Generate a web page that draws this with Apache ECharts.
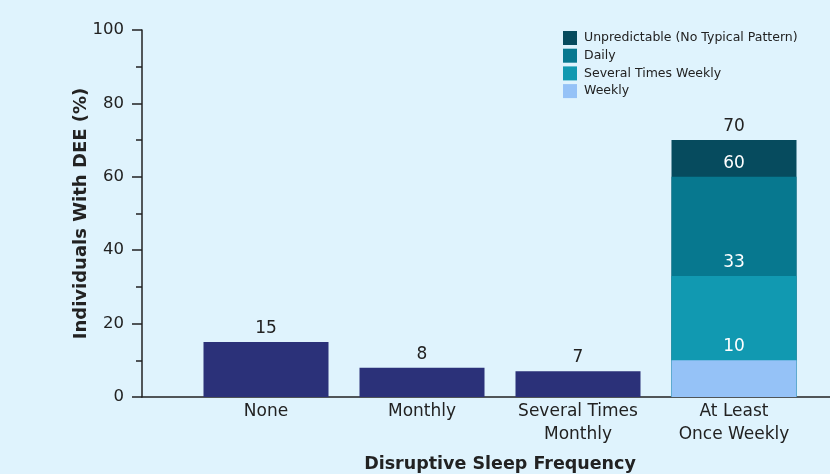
<!DOCTYPE html>
<html>
<head>
<meta charset="utf-8">
<script src="https://cdn.jsdelivr.net/npm/echarts@6/dist/echarts.min.js"></script>
<style>
  html, body { margin: 0; padding: 0; background: #dff3fd; }
  #chart { width: 830px; height: 474px; }
</style>
</head>
<body>
<div id="chart"></div>
<script>
// Sleep disruption frequency categories
const categories = ['None', 'Monthly', 'Several Times\nMonthly', 'At Least\nOnce Weekly'];

// Share of individuals with DEE (%) per frequency group
const overallPct = [15, 8, 7, '-'];

// Cumulative breakdown of the weekly-or-more group (top of each band, %)
const weeklyTop = ['-', '-', '-', 10];
const severalWeeklyTop = ['-', '-', '-', 33];
const dailyTop = ['-', '-', '-', 60];
const unpredictableTop = ['-', '-', '-', 70];

const yTicks = [0, 20, 40, 60, 80, 100];

const FONT = 'DejaVu Sans';
const INK = '#222222';

function band(name, data, color, labelColor) {
  return {
    name: name,
    type: 'bar',
    xAxisIndex: 1,
    yAxisIndex: 1,
    data: data,
    barWidth: 125,
    barGap: '-100%',
    itemStyle: { color: color },
    label: {
      show: true,
      position: 'top',
      distance: 5,
      color: labelColor,
      fontFamily: FONT,
      fontSize: 17
    },
    emphasis: { disabled: true },
    animation: false
  };
}

const chart = echarts.init(document.getElementById('chart'), null, { renderer: 'canvas' });
chart.setOption({
  backgroundColor: '#dff3fd',
  animation: false,
  textStyle: { fontFamily: FONT },
  legend: {
    orient: 'vertical',
    left: 563,
    top: 31,
    padding: 0,
    itemWidth: 14,
    itemHeight: 14,
    itemGap: 3.7,
    icon: 'rect',
    data: ['Unpredictable (No Typical Pattern)', 'Daily', 'Several Times Weekly', 'Weekly'],
    textStyle: { color: INK, fontFamily: FONT, fontSize: 12.5, padding: [0, 0, 0, 2] },
    selectedMode: false
  },
  grid: [
    { left: 142, right: 0, top: 30, bottom: 77, containLabel: false, outerBoundsMode: 'none' },
    { left: 188, right: 18, top: 30, bottom: 77, containLabel: false, outerBoundsMode: 'none' }
  ],
  xAxis: [
    {
      gridIndex: 0,
      type: 'value',
      min: 0,
      max: 1,
      axisLine: { show: true, lineStyle: { color: INK, width: 1.5 } },
      axisTick: { show: false },
      axisLabel: { show: false },
      splitLine: { show: false }
    },
    {
      gridIndex: 1,
      type: 'category',
      data: categories,
      axisLine: { show: false },
      axisTick: { show: false },
      axisLabel: {
        color: INK,
        fontFamily: FONT,
        fontSize: 17,
        lineHeight: 23,
        margin: 3,
        interval: 0
      },
      name: 'Disruptive Sleep Frequency',
      nameLocation: 'middle',
      nameGap: 58,
      nameMoveOverlap: false,
      nameTextStyle: { color: INK, fontFamily: FONT, fontSize: 17.5, fontWeight: 'bold' }
    }
  ],
  yAxis: [
    {
      gridIndex: 0,
      type: 'value',
      min: yTicks[0],
      max: yTicks[yTicks.length - 1],
      interval: 20,
      axisLine: { show: true, lineStyle: { color: INK, width: 1.5 } },
      axisTick: { show: true, length: 10, lineStyle: { color: INK, width: 1.5 } },
      minorTick: { show: true, splitNumber: 2, length: 6, lineStyle: { color: INK, width: 1.5 } },
      splitLine: { show: false },
      axisLabel: { color: INK, fontFamily: FONT, fontSize: 16.5, margin: 18 },
      name: 'Individuals With DEE (%)',
      nameLocation: 'middle',
      nameGap: 52,
      nameMoveOverlap: false,
      nameTextStyle: { color: INK, fontFamily: FONT, fontSize: 18, fontWeight: 'bold' }
    },
    {
      gridIndex: 1,
      type: 'value',
      min: 0,
      max: 100,
      show: false
    }
  ],
  series: [
    band('Overall', overallPct, '#2b3179', INK),
    band('Unpredictable (No Typical Pattern)', unpredictableTop, '#064b5e', INK),
    band('Daily', dailyTop, '#07788f', '#ffffff'),
    band('Several Times Weekly', severalWeeklyTop, '#1199b1', '#ffffff'),
    band('Weekly', weeklyTop, '#95c2f7', '#ffffff')
  ]
});
</script>
</body>
</html>
